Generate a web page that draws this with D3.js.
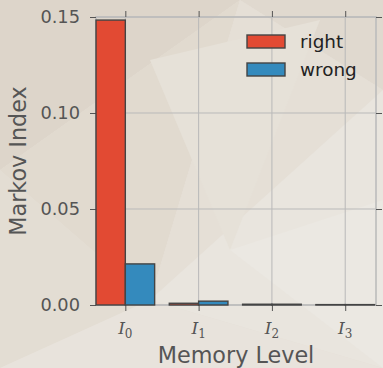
<!DOCTYPE html>
<html><head><meta charset="utf-8">
<script src="https://cdn.jsdelivr.net/npm/d3@7"></script>
<style>html,body{margin:0;padding:0;background:#e6e0d6;}svg{display:block;}</style>
</head><body>
<svg id="c" width="383" height="368"></svg>
<script>
const categories = ["0", "1", "2", "3"];
const seriesNames = ["right", "wrong"];
const rightValues = [0.1484, 0.0009, 0.0004, 0.0002];
const wrongValues = [0.0214, 0.0020, 0.0004, 0.0002];
const yTicks = [0.00, 0.05, 0.10, 0.15];
const colors = ["#E24A33", "#348ABD"];

const svg = d3.select("#c");
const m = {l: 96, r: 376, t: 17, b: 305};

// decorative low-poly background
const bg = svg.append("g");
const polys = [
  [[[0,0],[383,0],[383,368],[0,368]], "#e5dfd6"],
  [[[0,0],[240,0],[0,170]], "#ddd5ca"],
  [[[240,0],[383,0],[383,90]], "#e0d9cf"],
  [[[0,170],[240,0],[150,300]], "#e1dacf"],
  [[[240,0],[383,90],[150,300]], "#e5dfd6"],
  [[[0,170],[150,300],[0,368]], "#e3ddd3"],
  [[[150,300],[383,90],[383,368]], "#e9e5de"],
  [[[0,368],[150,300],[383,368]], "#e8e3dc"],
  [[[150,60],[320,20],[230,250]], "#e6e1d8"],
  [[[230,250],[383,200],[383,368]], "#ebe8e2"]
];
polys.forEach(p => bg.append("polygon").attr("points", p[0].map(d=>d.join(",")).join(" ")).attr("fill", p[1]));

const x = d3.scaleLinear().domain([-0.4, 3.42]).range([m.l, m.r]);
const y = d3.scaleLinear().domain([0, 0.15]).range([m.b, m.t]);
const bw = x(0.4) - x(0);

// grid
const g = svg.append("g");
g.selectAll("line.gx").data(categories).join("line")
  .attr("x1", (d,i)=>x(i)).attr("x2",(d,i)=>x(i)).attr("y1", m.t).attr("y2", m.b)
  .attr("stroke", "#b9b9b9").attr("stroke-width", 1);
g.selectAll("line.gy").data(yTicks).join("line")
  .attr("x1", m.l).attr("x2", m.r).attr("y1", d=>y(d)).attr("y2", d=>y(d))
  .attr("stroke", "#b9b9b9").attr("stroke-width", 1);

// spines
svg.append("rect").attr("x", m.l).attr("y", m.t).attr("width", m.r-m.l).attr("height", m.b-m.t)
  .attr("fill", "none").attr("stroke", "#bcbcbc").attr("stroke-width", 1.6);

// axes ticks
const tickColor = "#555";
const axL = svg.append("g").attr("transform", `translate(${m.l},0)`)
  .call(d3.axisLeft(y).tickValues(yTicks).tickFormat(d3.format(".2f")).tickSize(6).tickPadding(10));
const axR = svg.append("g").attr("transform", `translate(${m.r},0)`)
  .call(d3.axisRight(y).tickValues(yTicks).tickFormat("").tickSize(6));
const axB = svg.append("g").attr("transform", `translate(0,${m.b})`)
  .call(d3.axisBottom(x).tickValues([0,1,2,3]).tickFormat("").tickSize(6));
const axT = svg.append("g").attr("transform", `translate(0,${m.t})`)
  .call(d3.axisTop(x).tickValues([0,1,2,3]).tickFormat("").tickSize(6));
[axL, axR, axB, axT].forEach(a => {
  a.select(".domain").remove();
  a.selectAll(".tick line").attr("stroke", tickColor).attr("stroke-width", 1);
});
axL.selectAll(".tick text").attr("font-family", "DejaVu Sans").attr("font-size", 17.8).attr("fill", "#555");

// x tick labels with math italic I and subscript
categories.forEach((c, i) => {
  const t = svg.append("text").attr("x", x(i)).attr("y", 334).attr("text-anchor", "middle")
    .attr("font-family", "DejaVu Serif").attr("fill", "#555");
  t.append("tspan").attr("font-style", "italic").attr("font-size", 17).text("I");
  t.append("tspan").attr("font-size", 12).attr("dy", 4).text(c);
});

// bars
const series = [rightValues, wrongValues];
series.forEach((vals, s) => {
  svg.append("g").selectAll("rect").data(vals).join("rect")
    .attr("x", (d,i) => x(i) + (s === 0 ? -bw : 0))
    .attr("width", bw)
    .attr("y", d => y(d))
    .attr("height", d => y(0) - y(d))
    .attr("fill", colors[s])
    .attr("stroke", "#444").attr("stroke-width", 1.4);
});

// axis labels
svg.append("text").attr("x", (m.l+m.r)/2).attr("y", 363).attr("text-anchor", "middle")
  .attr("font-family", "DejaVu Sans").attr("font-size", 22.3).attr("fill", "#555").text("Memory Level");
svg.append("text").attr("transform", `translate(26,${(m.t+m.b)/2}) rotate(-90)`).attr("text-anchor", "middle")
  .attr("font-family", "DejaVu Sans").attr("font-size", 22.3).attr("fill", "#555").text("Markov Index");

// legend
const lg = svg.append("g");
seriesNames.forEach((n, i) => {
  lg.append("rect").attr("x", 247).attr("y", 35 + i*28).attr("width", 38).attr("height", 13)
    .attr("fill", colors[i]).attr("stroke", "#444").attr("stroke-width", 1.4);
  lg.append("text").attr("x", 300).attr("y", 48 + i*28)
    .attr("font-family", "DejaVu Sans").attr("font-size", 18.4).attr("fill", "#222").text(n);
});
</script>
</body></html>
